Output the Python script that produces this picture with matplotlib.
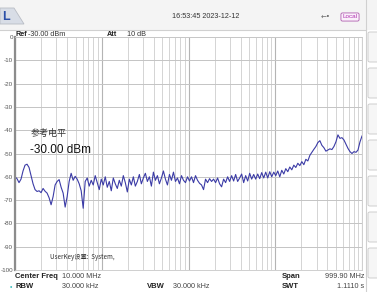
import numpy as np
import matplotlib
matplotlib.use("Agg")
import matplotlib.pyplot as plt
from matplotlib.patches import Rectangle, FancyBboxPatch, Polygon

plt.rcParams['font.family'] = ['Liberation Sans', 'Noto Sans CJK SC', 'DejaVu Sans']

# ================== DATA ==================
start_hz = 1e5
stop_hz = 1e9
ref_level = -30.0
y_ticks = [0, -10, -20, -30, -40, -50, -60, -70, -80, -90, -100]
y_tick_labels = ["0", "-10", "-20", "-30", "-40", "-50", "-60", "-70", "-80", "-90", "-100"]

levels = [
    -60.0, -60.8, -62.5, -61.0, -57.5, -55.0, -54.6, -56.0, -59.5, -63.0,
    -65.5, -66.3, -66.0, -66.8, -65.0, -66.2, -67.0, -69.0, -72.0, -68.5,
    -63.5, -62.0, -61.2, -64.5, -67.0, -73.0, -68.5, -62.0, -58.5, -61.5,
    -59.8, -61.0, -63.0, -66.0, -73.5, -62.0, -60.5, -64.0, -61.5, -63.5,
    -59.5, -62.5, -65.5, -61.0, -63.5, -60.0, -64.5, -62.0, -66.0, -60.5,
    -63.0, -65.0, -61.5, -64.0, -59.5, -62.5, -66.5, -61.0, -63.5, -60.0,
    -64.0, -62.0, -59.0, -63.0, -60.5, -58.5, -62.0, -60.0, -64.0, -58.0,
    -61.5, -59.5, -63.0, -60.5, -57.5, -61.0, -63.5, -59.0, -61.5, -58.0,
    -62.0, -60.5, -63.0, -59.5, -61.5, -62.5, -60.0, -61.8, -60.0, -62.5,
    -59.5, -61.5, -62.8, -63.5, -65.5, -61.0, -62.5, -60.8, -62.0, -61.0,
    -62.5, -60.5, -63.0, -64.3, -61.0, -62.5, -60.0, -62.0, -59.5, -61.8,
    -59.0, -62.0, -60.5, -58.8, -62.5, -59.5, -61.8, -58.5, -61.0, -59.0,
    -61.0, -58.8, -60.8, -58.2, -60.5, -58.0, -60.5, -57.8, -60.0, -58.0,
    -59.5, -57.5, -60.0, -57.2, -58.8, -56.5, -57.8, -55.8, -57.0, -55.0,
    -56.0, -54.2, -55.2, -53.5, -54.8, -52.5, -53.2, -50.8, -49.5, -48.2,
    -47.0, -45.3, -44.5, -46.5, -47.5, -49.0, -48.5, -48.0, -48.3, -47.0,
    -45.0, -42.0, -43.5, -43.2, -44.2, -46.0, -47.8, -49.2, -50.0, -49.2,
    -49.5, -48.5, -45.0, -42.5,
]
freqs = np.geomspace(start_hz, stop_hz, len(levels))

# ================== FIGURE ==================
W, H = 377, 292
fig = plt.figure(figsize=(W / 100, H / 100), dpi=100)
fig.patch.set_facecolor("white")


def px(x, y):
    return x / W, 1 - y / H


# header / frame decorations
fig.patches.append(Rectangle(px(0, 30), 1, 30 / H, transform=fig.transFigure,
                             facecolor="#f4f4f4", edgecolor="none", zorder=0))
fig.patches.append(Polygon([px(0, 8), px(14, 8), px(24, 24), px(0, 24)], closed=True,
                           transform=fig.transFigure, facecolor="#d8dde6",
                           edgecolor="#b8bcc4", lw=0.6, zorder=1))
fig.lines.append(plt.Line2D([px(0, 30)[0], px(366, 30)[0]], [px(0, 30)[1]] * 2,
                            transform=fig.transFigure, color="#d0d0d0", lw=0.8))
fig.lines.append(plt.Line2D([px(366, 0)[0]] * 2, [0, 1],
                            transform=fig.transFigure, color="#d0d0d0", lw=0.8))
for top in [30, 66, 102, 138, 174, 210, 246]:
    fig.patches.append(FancyBboxPatch(px(368, top + 32), 12 / W, 30 / H,
                                      boxstyle="round,pad=0,rounding_size=0.005",
                                      transform=fig.transFigure, facecolor="#f6f6f6",
                                      edgecolor="#c8c8c8", lw=0.6))

fig.text(*px(2, 17), "L", fontsize=9, fontweight="bold", color="#2a4fa8",
         ha="left", va="center")
fig.text(*px(206, 17), "16:53:45 2023-12-12", fontsize=5.2, color="#333333",
         ha="center", va="center")
fig.text(*px(326, 17), "\u2190\u2022", fontsize=5, color="#666666", ha="center", va="center",
         family=["DejaVu Sans"])
fig.text(*px(350, 17), "Local", fontsize=4.5, color="#b030b0", ha="center", va="center",
         bbox=dict(boxstyle="round,pad=0.25", fc="#faf0fa", ec="#b060b0", lw=0.6))

# ================== AXES ==================
ax = fig.add_axes([15 / W, 1 - 270 / H, 347 / W, 233 / H])
ax.set_xscale("log")
ax.set_xlim(start_hz, stop_hz)
ax.set_ylim(-100, 0)

ax.set_xticks([1e5, 1e6, 1e7, 1e8, 1e9])
ax.set_xticks([m * 10 ** d for d in range(5, 9) for m in range(2, 10)], minor=True)
ax.tick_params(axis="x", which="both", length=0, labelbottom=False)
ax.set_yticks(y_ticks)
ax.set_yticklabels(y_tick_labels)
ax.tick_params(axis="y", length=0, pad=1.5, labelsize=4.5, labelcolor="#555555")
ax.grid(True, axis="x", which="minor", color="#d4d4d4", lw=0.7)
ax.grid(True, axis="x", which="major", color="#b4b4b4", lw=0.8)
ax.grid(True, axis="y", which="major", color="#c4c4c4", lw=0.7)

for side in ["top", "right", "bottom"]:
    ax.spines[side].set_color("#c8c8c8")
    ax.spines[side].set_linewidth(0.6)
ax.spines["left"].set_color("#8c8c8c")
ax.spines["left"].set_linewidth(1.6)

ax.plot(freqs, levels, color="#3b3ba6", lw=0.8)

# in-plot annotations
fig.text(*px(16, 34), "Ref", fontsize=5.2, fontweight="bold", color="#222222", ha="left", va="center")
fig.text(*px(28, 34), "-30.00 dBm", fontsize=5.2, color="#333333", ha="left", va="center")
fig.text(*px(107, 34), "Att", fontsize=5.2, fontweight="bold", color="#222222", ha="left", va="center")
fig.text(*px(127, 34), "10 dB", fontsize=5.2, color="#333333", ha="left", va="center")

fig.text(*px(31, 133), "参考电平", fontsize=6.5, color="#333333", ha="left", va="center",
         family=["Noto Sans CJK SC", "DejaVu Sans"])
fig.text(*px(30, 150), "%.2f dBm" % ref_level, fontsize=8.5, color="#111111",
         ha="left", va="center")
fig.text(*px(50, 257), "UserKey设置:  System,", fontsize=4.5, color="#333333",
         ha="left", va="center", family=["Noto Sans CJK SC", "DejaVu Sans"])

# bottom status lines
fig.text(*px(15, 277), "Center Freq", fontsize=5.5, fontweight="bold", color="#222222", ha="left", va="center")
fig.text(*px(62, 277), "10.000 MHz", fontsize=5.2, color="#444444", ha="left", va="center")
fig.text(*px(10, 287), "\u2022", fontsize=5, color="#40c0c0", ha="left", va="center")
fig.text(*px(15, 287), "RBW", fontsize=5.5, fontweight="bold", color="#222222", ha="left", va="center")
fig.text(*px(62, 287), "30.000 kHz", fontsize=5.2, color="#444444", ha="left", va="center")
fig.text(*px(147, 287), "VBW", fontsize=5.5, fontweight="bold", color="#222222", ha="left", va="center")
fig.text(*px(173, 287), "30.000 kHz", fontsize=5.2, color="#444444", ha="left", va="center")
fig.text(*px(282, 277), "Span", fontsize=5.5, fontweight="bold", color="#222222", ha="left", va="center")
fig.text(*px(364, 277), "999.90 MHz", fontsize=5.2, color="#444444", ha="right", va="center")
fig.text(*px(282, 287), "SWT", fontsize=5.5, fontweight="bold", color="#222222", ha="left", va="center")
fig.text(*px(364, 287), "1.1110 s", fontsize=5.2, color="#444444", ha="right", va="center")

fig.savefig("out.png", dpi=100, facecolor=fig.get_facecolor())
